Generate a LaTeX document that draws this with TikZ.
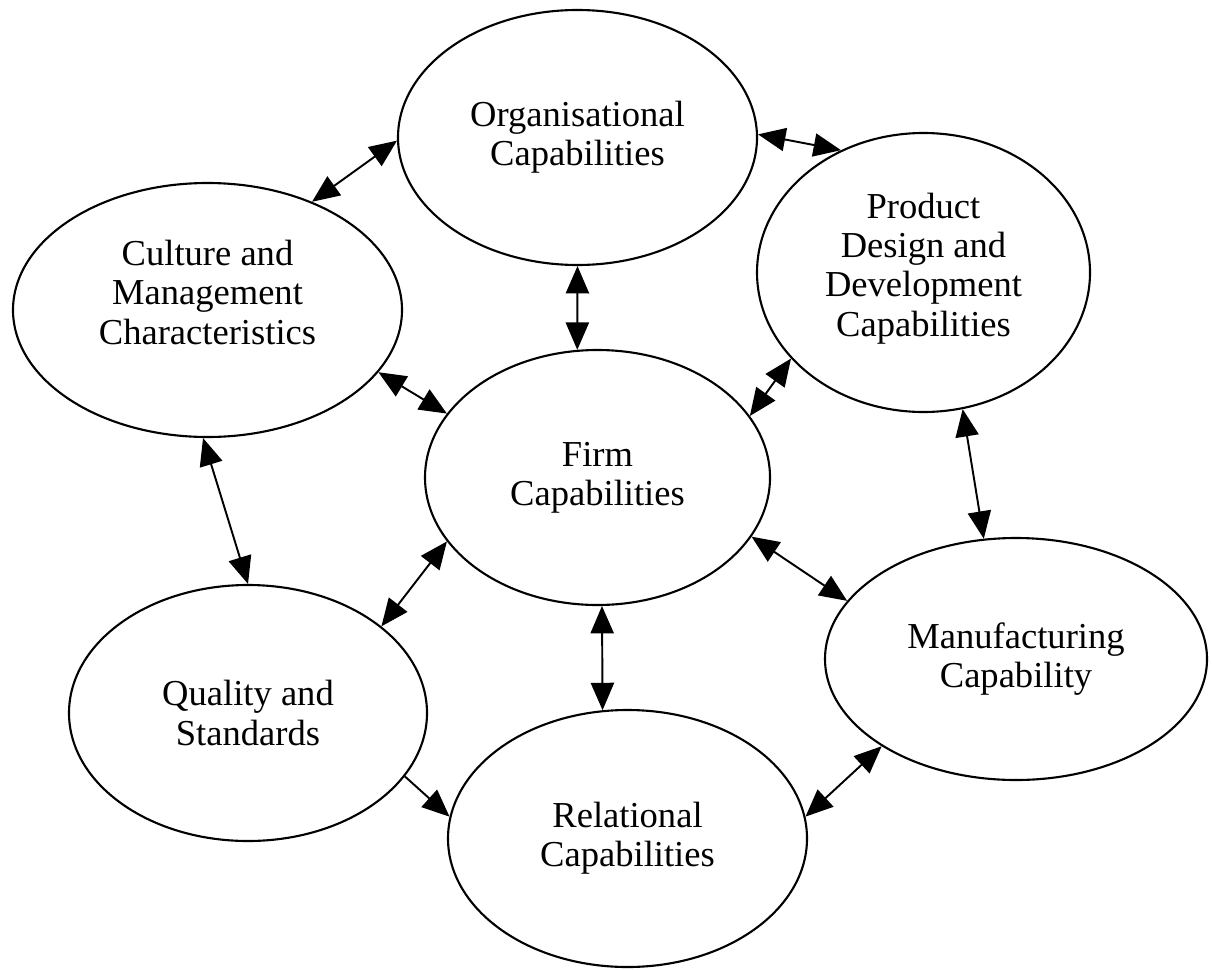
\documentclass[tikz,border=0pt]{standalone}
\usepackage{fontspec}
\setmainfont{Liberation Serif}
\usetikzlibrary{arrows.meta,shapes}

\begin{document}
\begin{tikzpicture}[capab/.style={draw,ellipse,line width=0.6pt,inner sep=0pt,align=center,font=\fontsize{10.4}{11.2}\selectfont},
		link/.style={line width=0.55pt},
		>={Triangle[length=7.8pt,width=6.6pt]}]
		\useasboundingbox (0,0) rectangle (12.13,9.69);
		\node[capab,minimum width=3.59cm,minimum height=2.55cm] (Org) at (5.775,8.315) {Organisational\\Capabilities};
		\node[capab,minimum width=3.89cm,minimum height=2.54cm,text depth=0.36cm] (Cult) at (2.075,6.59) {Culture and\\Management\\Characteristics};
		\node[capab,minimum width=3.33cm,minimum height=2.79cm,text depth=0.16cm] (Prod) at (9.235,6.965) {Product\\Design and\\Development\\Capabilities};
		\node[capab,minimum width=3.45cm,minimum height=2.55cm] (Firm) at (5.975,4.915) {Firm\\Capabilities};
		\node[capab,minimum width=3.58cm,minimum height=2.56cm] (Qual) at (2.48,2.56) {Quality and\\Standards};
		\node[capab,minimum width=3.82cm,minimum height=2.42cm] (Manu) at (10.16,3.10) {Manufacturing\\Capability};
		\node[capab,minimum width=3.59cm,minimum height=2.57cm] (Rel) at (6.275,1.305) {Relational\\Capabilities};
		\draw[link,<->] (Org.181) -- (Cult.46);
		\draw[link,<->] (Org.1) -- (Prod.124);
		\draw[link,<->] (Org.270) -- (Firm.99);
		\draw[link,<->] (Cult.340) -- (Firm.157);
		\draw[link,<->] (Prod.213) -- (Firm.22);
		\draw[link,<->] (Cult.268) -- (Qual.90);
		\draw[link,<->] (Prod.286) -- (Manu.105);
		\draw[link,<->] (Firm.203.5) -- (Qual.33);
		\draw[link,<->] (Firm.339) -- (Manu.161);
		\draw[link,<->] (Firm.272) -- (Rel.101);
		\draw[link,->] (Qual.338) -- (Rel.173.5);
		\draw[link,<->] (Rel.7.5) -- (Manu.213);
	\end{tikzpicture}
\end{document}
